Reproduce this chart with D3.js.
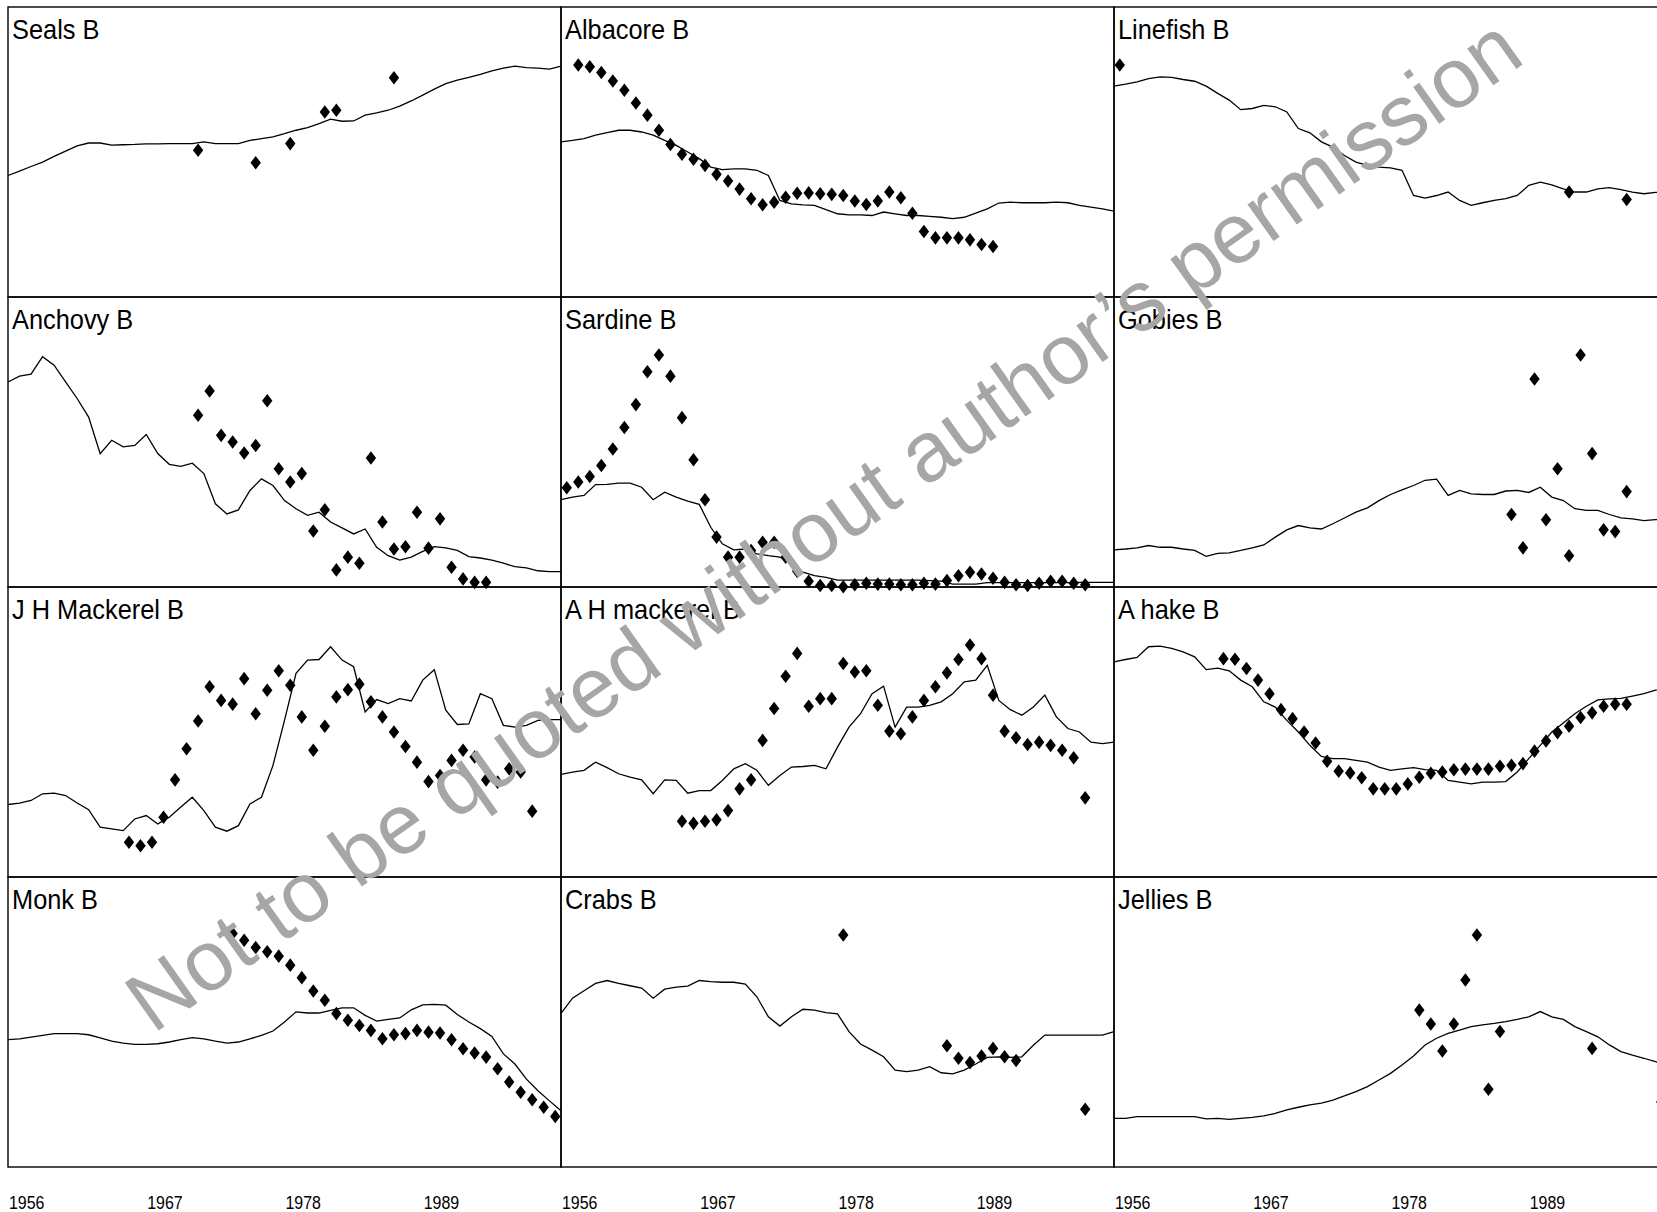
<!DOCTYPE html>
<html>
<head>
<meta charset="utf-8">
<script src="https://cdn.jsdelivr.net/npm/d3@7"></script>
<style>
  html, body { margin: 0; padding: 0; background: #fff; }
  svg { display: block; }
  text { font-family: Arial, "Liberation Sans", sans-serif; }
</style>
</head>
<body>
<svg id="chart" width="1657" height="1212"></svg>
<script>
// ---------------------------------------------------------------------------
// Ecosim biomass fits, 1956-2003. Values are relative biomass, scaled so that
// 0 is the bottom and 100 the top of each panel.
// Model lines: one value per year boundary, 1956 .. 2004 (49 values).
// Observations: one value per year, plotted mid-year.
// ---------------------------------------------------------------------------

const panelTitles = [
  "Seals B", "Albacore B", "Linefish B",
  "Anchovy B", "Sardine B", "Gobies B",
  "J H Mackerel B", "A H mackerel B", "A hake B",
  "Monk B", "Crabs B", "Jellies B"
];

const tickLabels = [1956, 1967, 1978, 1989];

// --- Seals
const sealsLine = [41.9,43.4,45,46.5,48.5,50.3,52.1,53.1,53.1,52.4,52.5,52.6,52.8,52.8,52.9,52.9,52.9,53.5,52.9,52.9,52.9,54,54.6,55.2,56.3,57.5,58.4,59.8,61.3,60.6,60.7,62.7,63.5,64.4,65.8,67.6,69.6,71.7,73.6,74.8,75.7,76.8,78,78.9,79.6,79.1,78.9,78.6,79.6];
const sealsObsYears = [1972, 1977, 1980, 1983, 1984, 1989];
const sealsObs = [50.6, 46.3, 52.9, 63.8, 64.4, 75.6];

// --- Albacore
const albacoreLine = [53.5,54,54.6,55.8,56.7,57.5,57.5,56.9,55.8,54,52.3,50,47.7,44.8,43.9,44.2,44.2,43.7,41.9,33.3,32.1,31.8,31.6,30.1,28.7,28.3,28.3,28.1,29.3,28.7,28.1,28.1,27.8,27.5,27,27.5,28.9,30.4,32.4,32.7,32.5,32.5,32.5,32.7,32.5,31.6,31,30.4,29.6];
const albacoreObsYears = d3.range(1957, 1994);
const albacoreObs = [80,79.4,77.4,74.5,71.3,66.9,62.7,57.5,52.6,49.2,47.5,45.4,42.3,40,37.2,33.9,31.8,32.7,34.4,35.8,35.9,35.6,35.4,35,33.1,31.9,33.1,36.2,34.2,28.9,22.6,20.4,20.4,20.4,19.7,18.1,17.4];

// --- Linefish
const linefishLine = [72.7,73.4,74.2,75.3,75.9,75.7,75,74.4,72.7,70.2,67.9,64.6,65,66.1,65.6,63.8,58.1,56.6,53.5,51.7,48.8,46.5,45.4,44.8,44.5,43.7,35,34.1,35,36.2,33.3,31.6,32.5,33.3,33.9,35,38.5,39.6,38.7,37.3,36.2,36.2,37.3,37.7,37,36.2,35.6,36.1,36];
const linefishObsYears = [1956, 1995, 2000];
const linefishObs = [80, 36.2, 33.6];

// --- Anchovy
const anchovyLine = [70.7,72.7,73.4,79.4,76.5,70.7,65,58.6,46,50.6,48.3,48.8,52.6,46,42.3,41.6,42.7,39.1,28.7,25.2,26.6,33.3,37.3,35,29.8,27,24.7,25.8,22.4,20.4,18.3,20,13.7,10.8,9.3,10.3,12.3,13.9,13.5,12.6,10.5,10,9.3,8.2,7,6.6,5.6,5.3,5.3];
const anchovyObsYears = d3.range(1972, 1998);
const anchovyObs = [59.2,67.6,52.3,50,46.2,48.8,64.2,40.8,36.2,39.1,19.3,26.6,5.9,10.3,8.2,44.5,22.4,13.1,13.9,25.8,13.4,23.5,6.8,2.8,1.6,1.6];

// --- Sardine
const sardineLine = [30.1,31,31.6,35.3,35.4,35.8,35.8,34.4,30.1,32.7,31,29.6,28.5,20.6,14.9,12.8,13.1,11.4,10.8,10.3,8.2,5.1,3.9,3.3,2.4,2.4,2.4,2.4,2.4,2.4,2.4,2.4,2.2,2,1,1,1,1.5,1.5,1.5,1.5,1.5,1.5,1.5,1.5,1.6,1.6,1.6,1.6];
const sardineObsYears = d3.range(1956, 2002);
const sardineObs = [34.2,36.2,38.1,41.9,47.6,55,62.9,74.2,80,72.7,58.4,43.9,30.1,17.2,10.3,10.3,12.6,15.4,15.4,10.3,5.4,2,0.5,0.5,0.1,0.8,1.3,1,1,0.8,0.8,1.3,1,2.2,3.9,5.1,4.5,3,1.6,0.8,0.5,1.3,2,2,1.3,0.8];

// --- Gobies
const gobiesLine = [12.8,13.1,13.5,14.3,13.7,13.7,13.1,12.6,10.6,11.6,11.8,12.6,13.5,14.5,17.2,19.7,21.2,20.4,20,21.8,23.8,25.8,27.3,29.8,31.9,33.5,35,36.8,37.2,31.6,33.3,32.1,31.9,31.9,33.1,33.3,32.6,34.4,31,29.8,27,26.4,26.4,25,23.8,23.5,22.9,23.2,23.2];
const gobiesObsYears = d3.range(1990, 2001);
const gobiesObs = [25,13.5,71.7,23.2,40.8,10.8,80,46,19.7,19.1,32.9];

// --- Jack horse mackerel
const jhMackerelLine = [25,25.5,26.4,28.7,28.9,28.1,25.5,23.2,17.2,16.6,16,20,21.2,18.3,20.6,24.1,27.5,22.9,17.2,15.8,17.7,25.2,27.5,38.5,54,70.2,74.8,75,79.4,74.8,72.5,56.9,61.2,59.8,61.5,60.7,67.9,71.5,57.5,52.6,52.8,63.2,61.5,52.3,51.7,52.3,54,54.3,54.3];
const jhMackerelObsYears = d3.range(1966, 2002);
const jhMackerelObs = [12,10.8,12,20.6,33.5,44.2,53.8,65.6,60.9,59.6,68.4,56.3,64.4,71.1,66.1,55.2,43.7,52,62.1,64.6,66.5,60.4,55.2,50,45,39.6,32.9,35,40.2,43.7,41.4,33.5,32.7,37.3,36.2,22.7];

// --- Atlantic horse mackerel
const ahMackerelLine = [35.4,36.2,36.8,39.6,37.7,35.6,34.4,33.5,28.7,33.5,33.3,28.9,29.8,29.8,33.3,37.3,39.1,36.8,31.6,35,37.9,38.1,38.5,37.3,44.8,51.7,56.3,63.2,65.8,51.7,58.6,58.6,59.2,60.4,63.2,67.3,67.9,73,60.9,57.7,55.8,58.6,62.7,55.2,51.2,50,46.5,46,46.5];
const ahMackerelObsYears = d3.range(1966, 2002);
const ahMackerelObs = [19.2,18.5,19.2,19.7,22.9,30.4,33.5,47.1,58.1,69.2,77.1,58.9,61.5,61.5,73.6,70.7,71.1,59.2,50.3,49.4,55.2,60.9,65.6,70.4,75,80,75.3,62.7,50.3,48,45.7,46.5,45.4,43.7,41.1,27.3];

// --- Adult hake
const aHakeLine = [74.2,75,75.7,79.4,79.6,78.8,77.6,75.9,71.5,72,71.1,67.9,65.6,60.4,58.6,54,50,45.4,41.6,40.8,40.8,40.2,39.6,37.9,36.8,37.3,37.7,37,36.8,33.3,32.7,32.1,32.7,32.7,32.9,36.2,40.8,45.4,50,53.1,56.3,58.9,61.1,61.4,61.6,62.4,63.2,64.4,65.3];
const aHakeObsYears = d3.range(1965, 2001);
const aHakeObs = [75.3,75.1,71.9,67.9,63.2,57.7,54.6,50,46.2,39.9,36.5,35.9,34.2,30.4,30.4,30.4,32.1,34.4,35.8,36.2,37,37.2,37.2,37.2,38.2,38.5,39.1,43.4,46.9,49.8,52,55,56.6,58.9,59.6,59.6];

// --- Monk
const monkLine = [43.9,44.2,44.8,45.4,46,46,46,45.6,44.5,43.4,42.7,42.3,42.3,42.5,43.1,43.9,44.6,44.2,43.4,42.7,43.1,44.2,45.4,46.9,50,53.5,53.1,53.1,54,54.9,54.9,52.3,50.3,50.9,51.4,54.2,55.9,56.1,55.8,52.6,50,47.7,45,39,35.5,30.3,26.3,22.8,19.4];
const monkObsYears = d3.range(1975, 2004);
const monkObs = [80.5,78.2,75.7,74.2,72.7,69.6,65.3,60.7,57.5,52.9,50.6,48.8,47.1,44.2,45.6,46,47.1,46.5,46.2,43.9,40.8,39.3,37.9,33.9,29.3,25.8,23.2,20.6,17.4];

// --- Crabs
const crabsLine = [53,58.2,60.8,63.3,64.3,63.3,62.5,61.7,58.2,61.3,62,62.4,64.3,63.9,63.7,63.7,63.1,58.7,51.8,48.6,51.8,54.4,54.1,53.2,52.8,46.7,42.4,40.3,38,33.4,32.9,33.4,34.6,32.5,32.1,33.4,35.5,37.8,38,37.8,38,42,45.5,45.5,45.5,45.5,45.5,45.5,46.7];
const crabsObsYears = [1980, 1989, 1990, 1991, 1992, 1993, 1994, 1995, 2001];
const crabsObs = [80, 41.8, 37.5, 36, 38.3, 40.9, 38, 36.7, 19.9];

// --- Jellies
const jelliesLine = [16.8,16.8,17.4,17.4,17.4,17.4,17.4,17.4,16.6,16.8,16.4,16.8,17.1,17.6,18.5,19.7,20.6,21.4,22,23.1,24.5,26,27.7,30,32.3,35.2,38.3,42.1,44.4,46.1,47.2,48.4,49,49.5,50.1,50.9,51.8,53.6,51.8,50.9,48.4,46.7,44.9,42.1,39.8,38.6,37.5,36.3,35.2];
const jelliesObsYears = [1982, 1983, 1984, 1985, 1986, 1987, 1988, 1989, 1997, 2003];
const jelliesObs = [54.1, 49.3, 40, 49.3, 64.5, 80, 26.8, 46.7, 40.9, 22.4];

const lineYears = d3.range(1956, 2005);

const series = [
  [sealsLine, sealsObsYears, sealsObs],
  [albacoreLine, albacoreObsYears, albacoreObs],
  [linefishLine, linefishObsYears, linefishObs],
  [anchovyLine, anchovyObsYears, anchovyObs],
  [sardineLine, sardineObsYears, sardineObs],
  [gobiesLine, gobiesObsYears, gobiesObs],
  [jhMackerelLine, jhMackerelObsYears, jhMackerelObs],
  [ahMackerelLine, ahMackerelObsYears, ahMackerelObs],
  [aHakeLine, aHakeObsYears, aHakeObs],
  [monkLine, monkObsYears, monkObs],
  [crabsLine, crabsObsYears, crabsObs],
  [jelliesLine, jelliesObsYears, jelliesObs]
];

// ---------------------------------------------------------------------------
// Layout: 4 rows x 3 columns of panels sharing borders.
// ---------------------------------------------------------------------------
const originX = 8, originY = 7;
const pw = 553, ph = 290;
const nCols = 3;

const svg = d3.select("#chart");

const x = d3.scaleLinear().domain([1956, 2004]).range([0, pw]);
const y = d3.scaleLinear().domain([0, 100]).range([ph, 0]);
// Axis labelling used under each column (labels at quarter widths)
const axisX = d3.scaleLinear().domain([1956, 2000]).range([0, pw]);

const line = d3.line()
  .x((d, i) => x(lineYears[i]))
  .y(d => y(d));

const diamond = "M0,-6.8L5.2,0L0,6.8L-5.2,0Z";

const plot = svg.append("g");

series.forEach(([lineVals, obsYears, obsVals], idx) => {
  const col = idx % nCols, row = Math.floor(idx / nCols);
  const g = plot.append("g")
    .attr("transform", `translate(${originX + col * pw},${originY + row * ph})`);

  g.append("rect")
    .attr("width", pw).attr("height", ph)
    .attr("fill", "none").attr("stroke", "#000").attr("stroke-width", 1.4);

  g.append("path")
    .datum(lineVals)
    .attr("d", line)
    .attr("fill", "none")
    .attr("stroke", "#000")
    .attr("stroke-width", 1.3);

  g.selectAll("path.obs")
    .data(obsYears.map((yr, i) => ({ yr, v: obsVals[i] })))
    .join("path")
    .attr("class", "obs")
    .attr("d", diamond)
    .attr("transform", d => `translate(${x(d.yr + 0.5)},${y(d.v)})`)
    .attr("fill", "#000");

  g.append("text")
    .attr("transform", "translate(4,32) scale(0.94,1)")
    .attr("font-size", 27)
    .attr("fill", "#000")
    .text(panelTitles[idx]);
});

// Year labels under each column
for (let c = 0; c < nCols; c++) {
  const ax = svg.append("g")
    .attr("transform", `translate(${originX + c * pw},${1208.5})`)
    .call(d3.axisBottom(axisX).tickValues(tickLabels).tickSize(0).tickPadding(0).tickFormat(d3.format("d")));
  ax.select(".domain").remove();
  ax.selectAll("text")
    .attr("y", 0).attr("dy", 0)
    .attr("x", 0.5)
    .attr("text-anchor", "start")
    .attr("font-family", "Arial, 'Liberation Sans', sans-serif")
    .attr("font-size", 19)
    .attr("fill", "#000")
    .attr("transform", "scale(0.84,1)");
}

// Copyright notice across the figure
svg.append("text")
  .attr("transform", "translate(840,548) rotate(-35.3)")
  .attr("text-anchor", "middle")
  .attr("font-size", 85)
  .attr("fill", "#a6a6a6")
  .text("Not to be quoted without author\u2019s permission");
</script>
</body>
</html>
